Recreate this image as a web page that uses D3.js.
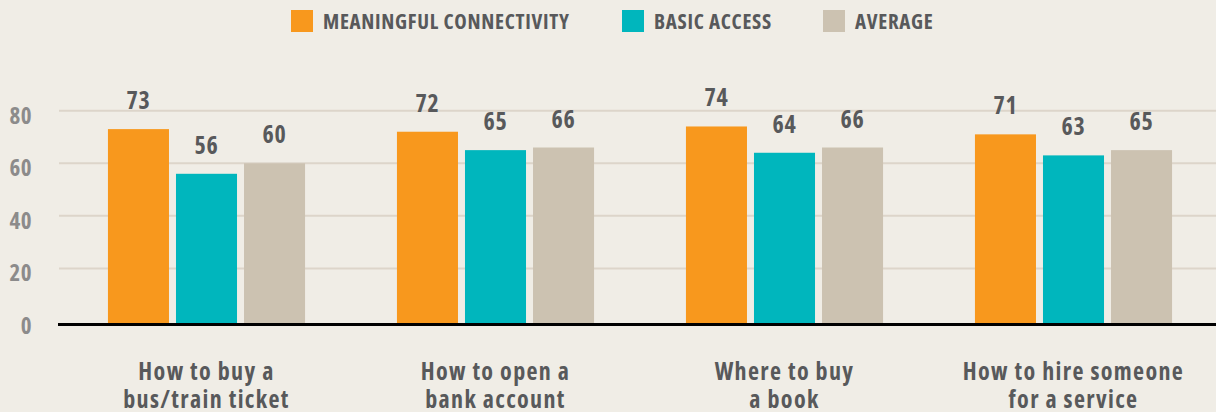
<!DOCTYPE html>
<html>
<head>
<meta charset="utf-8">
<script src="https://cdn.jsdelivr.net/npm/d3@7"></script>
<style>
  html, body { margin: 0; padding: 0; background: #f0ede6; }
  svg { display: block; }
  text { font-family: "Open Sans", "Liberation Sans Narrow", sans-serif; font-stretch: 75%; font-weight: 700; }
</style>
</head>
<body>
<svg id="chart" width="1216" height="412"></svg>
<script>
const categories = [
  ["How to buy a", "bus/train ticket"],
  ["How to open a", "bank account"],
  ["Where to buy", "a book"],
  ["How to hire someone", "for a service"]
];
const seriesNames = ["MEANINGFUL CONNECTIVITY", "BASIC ACCESS", "AVERAGE"];
const meaningful = [73, 72, 74, 71];
const basic = [56, 65, 64, 63];
const average = [60, 66, 66, 65];
const yTicks = [0, 20, 40, 60, 80];
const colors = ["#f8981d", "#00b6bd", "#ccc2b1"];

const seriesValues = [meaningful, basic, average];
const W = 1216, H = 412;
const svg = d3.select("#chart");
svg.append("rect").attr("width", W).attr("height", H).attr("fill", "#f0ede6");

const catIdx = d3.range(categories.length);
const x0 = d3.scaleBand().domain(catIdx).range([62, 1218]).paddingInner(0.318).paddingOuter(0.159);
const x1 = d3.scaleBand().domain(d3.range(seriesNames.length)).range([0, x0.bandwidth()]).paddingInner(0.103);
const y = d3.scaleLinear().domain([0, 80]).range([321, 110.7]);

// gridlines
svg.append("g").selectAll("line").data(yTicks.filter(t => t > 0)).join("line")
  .attr("x1", 59).attr("x2", 1216)
  .attr("y1", d => y(d)).attr("y2", d => y(d))
  .attr("stroke", "#ddd5ca").attr("stroke-width", 2);

// y tick labels
const yAxis = d3.axisLeft(y).tickValues(yTicks).tickSize(0).tickPadding(0);
const yg = svg.append("g").attr("transform", "translate(32,5)").call(yAxis);
yg.select(".domain").remove();
yg.attr("font-family", null).attr("font-size", null);
yg.selectAll("text").attr("fill", "#8c8b8b").style("font-size", "23px").style("letter-spacing", "0.5px");

// bars
const groups = svg.append("g").selectAll("g").data(catIdx).join("g")
  .attr("transform", i => `translate(${x0(i)},0)`);
groups.selectAll("rect").data(i => seriesValues.map((s, k) => ({k, v: s[i]}))).join("rect")
  .attr("x", d => x1(d.k)).attr("width", x1.bandwidth())
  .attr("y", d => y(d.v)).attr("height", d => y(0) - y(d.v) + 2)
  .attr("fill", d => colors[d.k]);
groups.selectAll("text").data(i => seriesValues.map((s, k) => ({k, v: s[i]}))).join("text")
  .attr("x", d => x1(d.k) + x1.bandwidth() / 2)
  .attr("y", d => y(d.v) - 20)
  .attr("text-anchor", "middle").attr("fill", "#58595b").style("font-size", "24px")
  .style("letter-spacing", "0.8px")
  .text(d => d.v);

// baseline
svg.append("line").attr("x1", 58).attr("x2", 1216).attr("y1", y(0) + 3.5).attr("y2", y(0) + 3.5)
  .attr("stroke", "#000").attr("stroke-width", 3);

// category labels
const cl = svg.append("g").selectAll("text").data(catIdx).join("text")
  .attr("x", i => x0(i) + x0.bandwidth() / 2).attr("y", 380)
  .attr("text-anchor", "middle").attr("fill", "#58595b").style("font-size", "24px")
  .style("letter-spacing", "1.35px");
cl.selectAll("tspan").data(i => categories[i]).join("tspan")
  .attr("x", function() { return d3.select(this.parentNode).attr("x"); })
  .attr("dy", (d, j) => j === 0 ? 0 : 28)
  .text(d => d);

// legend
const legendX = [291, 622, 823];
const lg = svg.append("g").selectAll("g").data(seriesNames).join("g")
  .attr("transform", (d, i) => `translate(${legendX[i]},10)`);
lg.append("rect").attr("width", 22).attr("height", 22).attr("fill", (d, i) => colors[i]);
lg.append("text").attr("x", 32).attr("y", 19).attr("fill", "#58595b").style("font-size", "21px")
  .style("letter-spacing", "0.7px").text(d => d);
</script>
</body>
</html>
